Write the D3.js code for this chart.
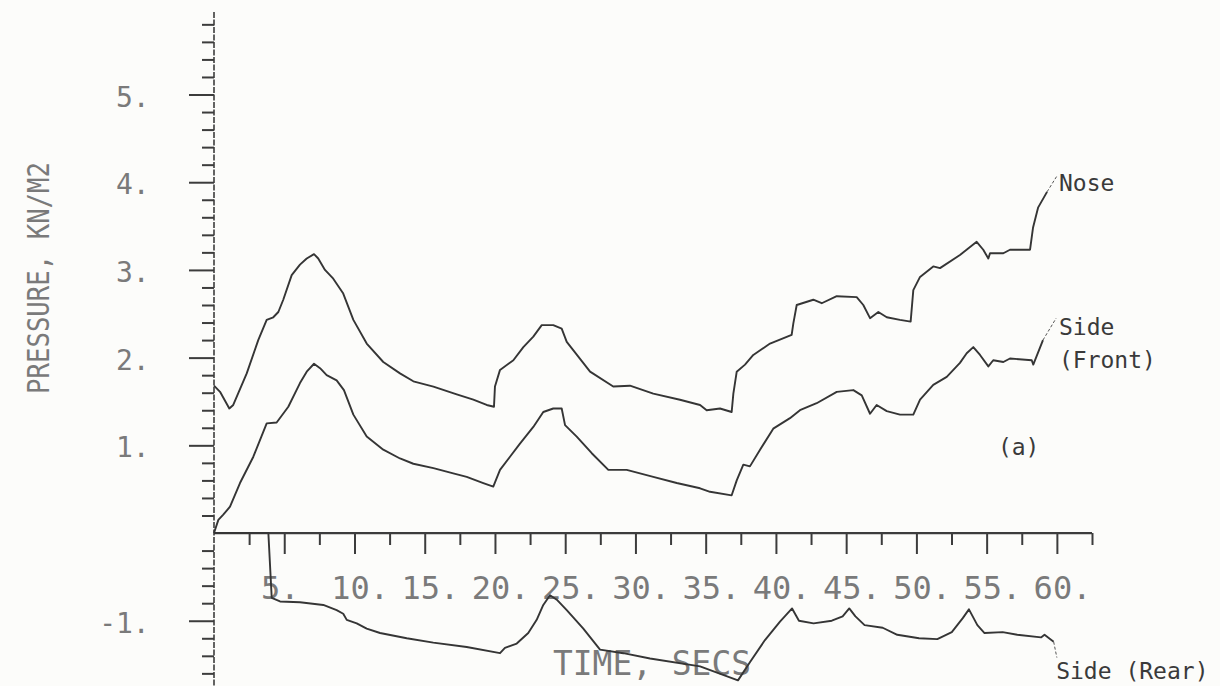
<!DOCTYPE html>
<html><head><meta charset="utf-8">
<script src="https://cdn.jsdelivr.net/npm/d3@7"></script>
<style>html,body{margin:0;padding:0;background:#fcfcfa;} svg{display:block}</style>
</head><body>
<svg id="chart" width="1220" height="686"></svg>
<script>
// ---- data (time in seconds, pressure in kN/m2) ----
const noseTime = [0,0.43,1.09,1.37,2.33,3.15,3.75,4.22,4.58,4.93,5.53,6.12,6.60,7.12,7.42,7.90,8.49,9.20,9.92,10.87,12.05,13.24,14.19,15.62,17.28,18.46,19.41,19.93,20.0,20.36,21.31,22.02,22.73,23.33,24.15,24.75,25.11,26.77,28.42,29.61,31.27,33.17,34.60,35.07,36.02,36.85,36.97,37.21,37.80,38.39,39.58,41.12,41.24,41.48,42.66,43.26,44.33,45.75,46.22,46.70,47.29,47.89,48.83,49.59,49.78,50.26,51.20,51.68,53.10,54.29,54.76,55.12,55.24,56.19,56.66,58.09,58.30,58.66,59.30];
const noseValue = [1.68,1.61,1.42,1.46,1.82,2.20,2.43,2.46,2.52,2.66,2.94,3.06,3.13,3.18,3.13,3.00,2.90,2.73,2.43,2.16,1.95,1.82,1.73,1.67,1.58,1.52,1.46,1.44,1.67,1.86,1.97,2.12,2.24,2.37,2.37,2.33,2.18,1.84,1.67,1.68,1.59,1.52,1.46,1.40,1.42,1.38,1.59,1.84,1.92,2.03,2.16,2.26,2.39,2.60,2.66,2.62,2.70,2.69,2.60,2.45,2.52,2.46,2.43,2.41,2.77,2.92,3.04,3.02,3.17,3.32,3.23,3.13,3.19,3.19,3.23,3.23,3.48,3.71,3.89];

const sideFrontTime = [0,0.31,0.66,1.14,1.85,2.80,3.75,4.46,5.29,6.12,6.60,7.12,7.55,8.02,8.73,9.25,9.92,10.87,12.05,13.24,14.19,15.62,17.03,17.99,19.17,19.88,20.36,21.07,21.78,22.73,23.44,24.15,24.75,24.99,25.82,26.89,28.07,29.38,31.27,32.94,34.60,35.31,36.85,37.21,37.68,38.15,38.87,39.81,41.00,41.71,42.90,44.33,45.51,46.11,46.70,47.17,47.89,48.83,49.78,50.26,51.20,52.16,53.10,53.58,54.05,54.53,55.12,55.47,56.19,56.66,58.21,58.32,59.01];
const sideFrontValue = [0,0.15,0.21,0.30,0.57,0.87,1.25,1.26,1.44,1.71,1.84,1.93,1.88,1.80,1.74,1.63,1.35,1.10,0.95,0.85,0.79,0.74,0.68,0.64,0.57,0.53,0.72,0.87,1.02,1.21,1.38,1.42,1.42,1.23,1.10,0.91,0.72,0.72,0.64,0.57,0.51,0.47,0.43,0.60,0.78,0.76,0.95,1.19,1.31,1.40,1.48,1.61,1.63,1.57,1.36,1.46,1.39,1.35,1.35,1.52,1.69,1.78,1.94,2.05,2.12,2.03,1.90,1.97,1.95,1.99,1.97,1.92,2.20];

const sideRearTime = [0,3.87,4.11,4.70,6.12,7.78,8.73,9.20,9.45,10.16,10.87,11.82,13.72,15.61,17.99,20.36,20.71,21.55,22.37,22.97,23.44,23.92,24.40,25.11,26.29,27.48,29.14,31.04,34.60,37.30,38.16,39.22,40.29,41.15,41.64,42.68,43.98,44.75,45.22,45.66,46.31,47.60,48.64,50.19,51.49,52.52,53.30,53.74,54.34,54.85,56.14,57.18,58.87,59.12,59.77];
const sideRearValue = [0,0,-0.74,-0.78,-0.79,-0.82,-0.88,-0.92,-0.99,-1.03,-1.09,-1.14,-1.20,-1.25,-1.30,-1.37,-1.31,-1.26,-1.14,-0.99,-0.82,-0.71,-0.76,-0.88,-1.09,-1.33,-1.37,-1.43,-1.52,-1.68,-1.47,-1.22,-1.01,-0.86,-1.00,-1.03,-1.00,-0.95,-0.86,-0.95,-1.05,-1.08,-1.16,-1.20,-1.21,-1.13,-0.97,-0.87,-1.05,-1.14,-1.13,-1.16,-1.19,-1.16,-1.24];

const xTickValues = [5,10,15,20,25,30,35,40,45,50,55,60];
const xTickLabels = ["5.","10.","15.","20.","25.","30.","35.","40.","45.","50.","55.","60."];
const yTickValues = [-1,1,2,3,4,5];
const yTickLabels = ["-1.","1.","2.","3.","4.","5."];
const seriesNames = ["Nose","Side","(Front)","Side (Rear)","(a)"];

// ---- drawing ----
const svg = d3.select("#chart");
svg.append("rect").attr("width",1220).attr("height",686).attr("fill","#fcfcfa");

const x = d3.scaleLinear().domain([0, 62.5]).range([214, 1092]);
const y = d3.scaleLinear().domain([-1.8, 6]).range([690.9, 6.8]);

const axisColor = "#3c3c3c";
const lineColor = "#353535";
const textColor = "#7a7a7a";

// Y axis
const yMinor = d3.range(-16, 59, 2).map(d => d/10).filter(d => Math.abs(d) > 1e-9 && Math.abs(d - Math.round(d)) > 1e-9);
const gy = svg.append("g").attr("transform", `translate(${x(0)},0)`);
gy.call(d3.axisLeft(y).tickValues(yMinor).tickSize(12).tickSizeOuter(0).tickFormat(""));
gy.call(g => g.select(".domain").remove());
const gy2 = svg.append("g").attr("transform", `translate(${x(0)},0)`);
gy2.call(d3.axisLeft(y).tickValues(yTickValues).tickSize(25).tickSizeOuter(0).tickFormat(""));
gy2.call(g => g.select(".domain").remove());
svg.selectAll(".tick line").attr("stroke", axisColor).attr("stroke-width", 2.2);
svg.append("line").attr("x1", x(0)).attr("x2", x(0)).attr("y1", y(5.94)).attr("y2", y(-1.8))
  .attr("stroke", axisColor).attr("stroke-width", 1.6).attr("stroke-dasharray","6,1.5");

// X axis
const xMinor = d3.range(1, 26, 2).map(d => d*2.5);
const gx = svg.append("g").attr("transform", `translate(0,${y(0)})`);
gx.call(d3.axisBottom(x).tickValues(xMinor).tickSize(12).tickSizeOuter(0).tickFormat(""));
gx.call(g => g.select(".domain").remove());
const gx2 = svg.append("g").attr("transform", `translate(0,${y(0)})`);
gx2.call(d3.axisBottom(x).tickValues(xTickValues).tickSize(21).tickSizeOuter(0).tickFormat(""));
gx2.call(g => g.select(".domain").remove());
svg.selectAll(".tick line").attr("stroke", axisColor).attr("stroke-width", 2);
svg.append("line").attr("x1", x(0)).attr("x2", x(62.5)).attr("y1", y(0)).attr("y2", y(0))
  .attr("stroke", axisColor).attr("stroke-width", 2.2);

// tick labels
const monoFont = "'DejaVu Sans Mono', 'Liberation Mono', monospace";
const xfs = 32, xPitch = 0.602 * xfs;
svg.append("g").selectAll("text").data(xTickValues).join("text")
  .attr("x", (d) => x(d) - 4 - xPitch)
  .attr("y", y(0) + 66)
  .attr("font-family", monoFont).attr("font-size", xfs).attr("fill", textColor)
  .text((d, i) => xTickLabels[i]);

const yfs = 28, yPitch = 0.602 * yfs;
svg.append("g").selectAll("text").data(yTickValues).join("text")
  .attr("x", (d, i) => 116 - (yTickLabels[i].length - 2) * yPitch)
  .attr("y", d => y(d) + 12)
  .attr("font-family", monoFont).attr("font-size", yfs).attr("fill", textColor)
  .text((d, i) => yTickLabels[i]);

// axis titles
svg.append("text")
  .attr("transform", `translate(${49},${278}) rotate(-90)`)
  .attr("text-anchor", "middle")
  .attr("font-family", monoFont).attr("font-size", 31).attr("fill", textColor)
  .attr("textLength", 232).attr("lengthAdjust", "spacingAndGlyphs")
  .text("PRESSURE, KN/M2");
svg.append("text")
  .attr("x", 652).attr("y", 675)
  .attr("text-anchor", "middle")
  .attr("font-family", monoFont).attr("font-size", 34).attr("fill", textColor)
  .attr("textLength", 198).attr("lengthAdjust", "spacingAndGlyphs")
  .text("TIME, SECS");

// series lines
const line = d3.line().x(d => x(d[0])).y(d => y(d[1]));
const series = [
  d3.zip(noseTime, noseValue),
  d3.zip(sideFrontTime, sideFrontValue),
  d3.zip(sideRearTime, sideRearValue)
];
svg.append("g").selectAll("path").data(series).join("path")
  .attr("d", line)
  .attr("fill", "none").attr("stroke", lineColor).attr("stroke-width", 1.9)
  .attr("stroke-linejoin", "round");

// leaders + labels
const labFont = "'DejaVu Sans Mono', monospace";
const labFs = 23;
function leader(t0, v0, t1, v1) {
  svg.append("line").attr("x1", x(t0)).attr("y1", y(v0)).attr("x2", x(t1)).attr("y2", y(v1))
    .attr("stroke", "#555").attr("stroke-width", 1).attr("stroke-dasharray", "3,2");
}
const nEnd = noseTime.length - 1, fEnd = sideFrontTime.length - 1, rEnd = sideRearTime.length - 1;
leader(noseTime[nEnd], noseValue[nEnd], 60.0, 4.07);
leader(sideFrontTime[fEnd], sideFrontValue[fEnd], 59.95, 2.45);
leader(sideRearTime[rEnd], sideRearValue[rEnd], 60.0, -1.42);

const labels = [
  {text: seriesNames[0], t: 60.15, v: 3.99},
  {text: seriesNames[1], t: 60.15, v: 2.35},
  {text: seriesNames[2], t: 60.15, v: 1.97},
  {text: seriesNames[3], t: 59.95, v: -1.57},
  {text: seriesNames[4], t: 55.8, v: 0.98}
];
svg.append("g").selectAll("text").data(labels).join("text")
  .attr("x", d => x(d.t)).attr("y", d => y(d.v) + 8)
  .attr("font-family", labFont).attr("font-size", labFs).attr("fill", "#3a3a3a")
  .text(d => d.text);
</script>
</body></html>
